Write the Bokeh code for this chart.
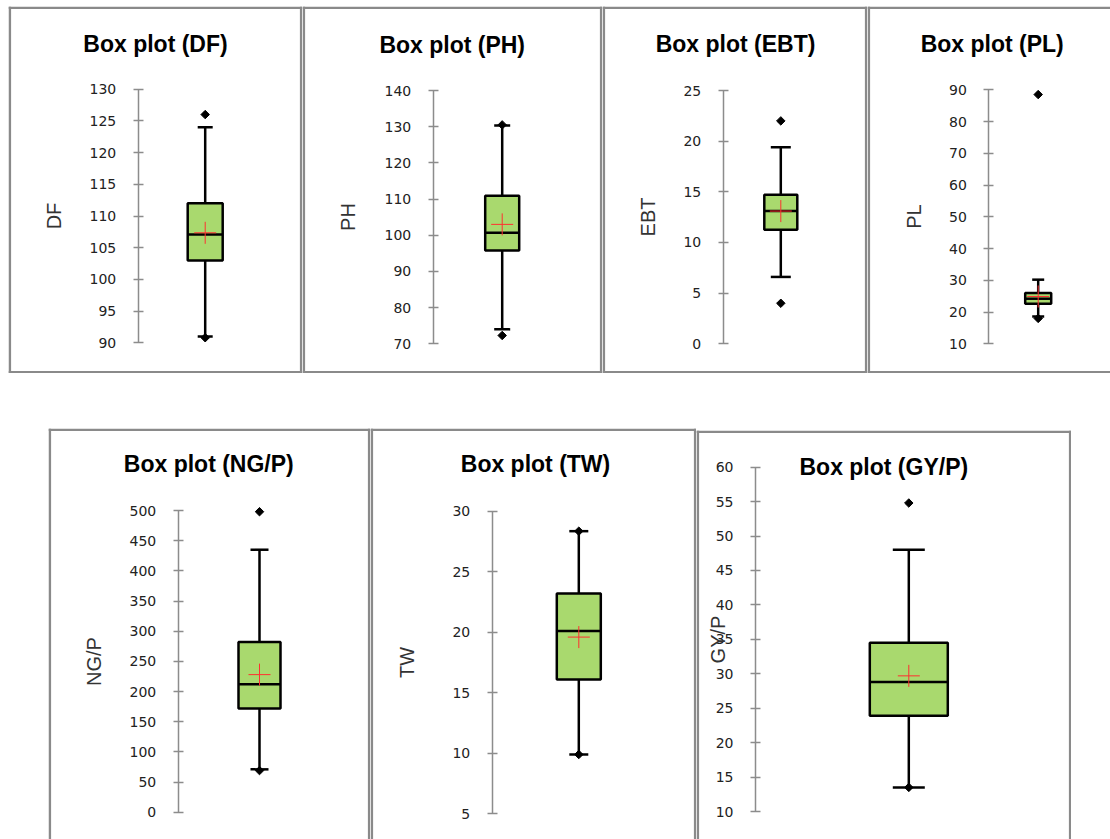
from math import pi
from bokeh.plotting import figure
from bokeh.layouts import row, column
from bokeh.models import Spacer, LinearAxis, FixedTicker, Range1d, Label, Span, ColumnDataSource
from bokeh.embed import file_html
from bokeh.resources import INLINE

# ---------------- data ----------------
traits = ["DF", "PH", "EBT", "PL", "NG/P", "TW", "GY/P"]
titles = ["Box plot (DF)", "Box plot (PH)", "Box plot (EBT)", "Box plot (PL)",
          "Box plot (NG/P)", "Box plot (TW)", "Box plot (GY/P)"]
minimum = [90.8, 72.3, 4.0, 18.0, 69, 9.9, 13.5]
whisker_low = [91, 74, 6.6, 18.6, 71, 9.9, 13.5]
q1 = [103, 95.8, 11.25, 22.6, 172, 16.1, 23.9]
median = [107.1, 100.7, 13.1, 24.2, 212, 20.1, 28.8]
mean = [107.35, 103.0, 13.1, 24.9, 228, 19.6, 29.7]
q3 = [112, 110.9, 14.7, 26.0, 282, 23.2, 34.5]
whisker_high = [124, 130.3, 19.4, 30.2, 435, 28.35, 48]
maximum = [126, 130.5, 22, 88.5, 498, 28.35, 54.8]

ticks_DF = [90, 95, 100, 105, 110, 115, 120, 125, 130]
ticks_PH = [70, 80, 90, 100, 110, 120, 130, 140]
ticks_EBT = [0, 5, 10, 15, 20, 25]
ticks_PL = [10, 20, 30, 40, 50, 60, 70, 80, 90]
ticks_NGP = [0, 50, 100, 150, 200, 250, 300, 350, 400, 450, 500]
ticks_TW = [5, 10, 15, 20, 25, 30]
ticks_GYP = [10, 15, 20, 25, 30, 35, 40, 45, 50, 55, 60]
tick_lists = [ticks_DF, ticks_PH, ticks_EBT, ticks_PL, ticks_NGP, ticks_TW, ticks_GYP]

# ---------------- layout / style (picture pixel positions) ----------------
layout = [
    dict(x0=8, y0=6, w=294, h=367, sides=(1, 1, 1, 1), ax=137.7, ty=88.7, by=342.3,
         bx=204.7, bw=35, cw=15, tx=155, tyy=43, ls=22),
    dict(x0=302, y0=6, w=300, h=367, sides=(1, 1, 1, 1), ax=432.7, ty=90, by=343.3,
         bx=501.7, bw=34, cw=16, tx=451.7, tyy=44, ls=23),
    dict(x0=602, y0=6, w=265, h=367, sides=(1, 1, 1, 1), ax=722.7, ty=90, by=343.3,
         bx=780.3, bw=33, cw=20, tx=735, tyy=43, ls=22),
    dict(x0=867, y0=6, w=243, h=367, sides=(1, 0, 1, 1), ax=988.3, ty=89.3, by=343.3,
         bx=1037.7, bw=26, cw=12, tx=991.7, tyy=43, ls=21),
    dict(x0=48, y0=428, w=322, h=411, sides=(1, 1, 1, 0), ax=177.7, ty=510, by=811.7,
         bx=259, bw=42, cw=18, tx=208.3, tyy=463, ls=22),
    dict(x0=370, y0=428, w=326, h=411, sides=(1, 1, 1, 0), ax=491.7, ty=510.7, by=813.3,
         bx=578.3, bw=44, cw=19, tx=535, tyy=463, ls=32),
    dict(x0=696, y0=430, w=375, h=409, sides=(1, 1, 1, 0), ax=755, ty=466.7, by=811,
         bx=908.3, bw=78, cw=32, tx=883.3, tyy=466.7, ls=-16),
]

BOX_FILL = "#a9d96e"
BORDER = "#8a8a8a"
AXIS_GRAY = "#8c8c8c"


def make_panel(i):
    L = layout[i]
    ticks = tick_lists[i]
    lo, hi = ticks[0], ticks[-1]
    upp = (hi - lo) / (L["by"] - L["ty"])  # data units per pixel

    def py(p):  # picture pixel y -> data y
        return hi - (p - L["ty"]) * upp

    def px(p):  # picture pixel x -> data x (1 unit = 1 px, box at 0)
        return p - L["bx"]

    x_range = Range1d(px(L["x0"]), px(L["x0"] + L["w"]))
    y_range = Range1d(py(L["y0"] + L["h"]), py(L["y0"]))

    p = figure(width=L["w"], height=L["h"], x_range=x_range, y_range=y_range,
               x_axis_type=None, y_axis_type=None, toolbar_location=None,
               output_backend="svg", min_border=0)
    p.title.visible = False
    p.outline_line_color = None
    p.background_fill_color = "white"
    p.border_fill_color = "white"

    # panel border
    l, r, t, b = L["sides"]
    if l:
        p.add_layout(Span(location=px(L["x0"] + 1.3), dimension="height",
                          line_color=BORDER, line_width=2.6))
    if r:
        p.add_layout(Span(location=px(L["x0"] + L["w"] - 1.3), dimension="height",
                          line_color=BORDER, line_width=2.6))
    if t:
        p.add_layout(Span(location=py(L["y0"] + 1.3), dimension="width",
                          line_color=BORDER, line_width=2.6))
    if b:
        p.add_layout(Span(location=py(L["y0"] + L["h"] - 1.3), dimension="width",
                          line_color=BORDER, line_width=2.6))

    # y axis drawn inside the panel
    axis = LinearAxis(fixed_location=px(L["ax"]), bounds=(lo, hi),
                      ticker=FixedTicker(ticks=ticks, minor_ticks=[]),
                      axis_line_color=AXIS_GRAY, axis_line_width=1.5,
                      major_tick_line_color=AXIS_GRAY, major_tick_line_width=1.5,
                      major_tick_in=5, major_tick_out=5,
                      minor_tick_line_color=None,
                      major_label_text_font="DejaVu Sans",
                      major_label_text_font_size="14px",
                      major_label_text_color="#222222",
                      major_label_standoff=17,
                      axis_label=traits[i],
                      axis_label_text_font="Liberation Sans",
                      axis_label_text_font_size="20px",
                      axis_label_text_font_style="normal",
                      axis_label_text_color="#333333",
                      axis_label_standoff=L["ls"])
    p.add_layout(axis, "left")

    # title
    p.add_layout(Label(x=px(L["tx"]), y=py(L["tyy"]), text=titles[i],
                       text_align="center", text_baseline="middle",
                       text_font="Liberation Sans", text_font_size="23px",
                       text_font_style="bold", text_color="black"))

    bw, cw = L["bw"], L["cw"]
    src = ColumnDataSource(dict(
        x=[0], q1=[q1[i]], q3=[q3[i]], med=[median[i]], mean=[mean[i]],
        wl=[whisker_low[i]], wh=[whisker_high[i]]))

    # whiskers
    p.segment(x0="x", y0="q3", x1="x", y1="wh", source=src, line_color="black", line_width=2.5)
    p.segment(x0="x", y0="q1", x1="x", y1="wl", source=src, line_color="black", line_width=2.5)
    p.segment(x0=-cw / 2, y0="wh", x1=cw / 2, y1="wh", source=src, line_color="black", line_width=2.5)
    p.segment(x0=-cw / 2, y0="wl", x1=cw / 2, y1="wl", source=src, line_color="black", line_width=2.5)
    # box
    p.vbar(x="x", width=bw, bottom="q1", top="q3", source=src,
           fill_color=BOX_FILL, line_color="black", line_width=2.5)
    # median
    p.segment(x0=-bw / 2, y0="med", x1=bw / 2, y1="med", source=src,
              line_color="black", line_width=2.5)
    # mean
    p.scatter(x="x", y="mean", source=src, marker="cross", size=22,
              line_color="#ff3030", line_width=1)
    # min / max
    p.scatter(x=[0, 0], y=[minimum[i], maximum[i]], marker="square", size=6,
              angle=pi / 4, fill_color="black", line_color="black")
    return p


panels = [make_panel(i) for i in range(7)]

top = row(Spacer(width=8, height=367), panels[0], panels[1], panels[2], panels[3])
bottom = row(Spacer(width=48, height=411), panels[4], panels[5],
             column(Spacer(width=375, height=2), panels[6]))
page = column(Spacer(width=10, height=6), top, Spacer(width=10, height=55), bottom)

open("out.html", "w").write(file_html(page, INLINE))
